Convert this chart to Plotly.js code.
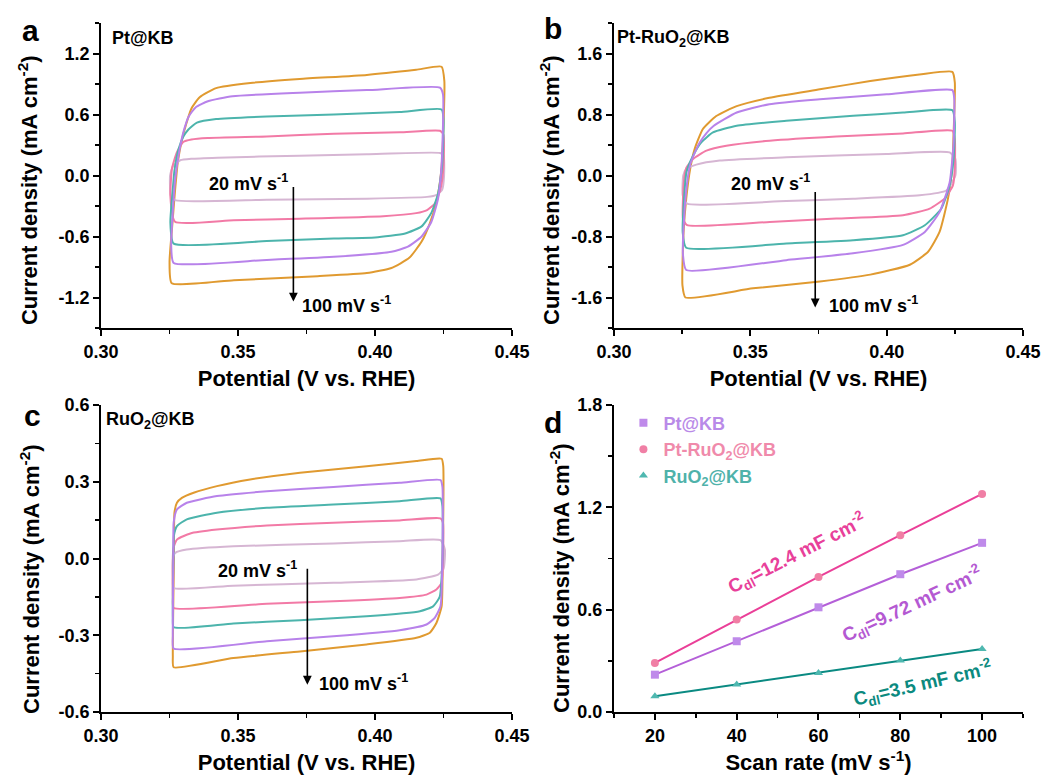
<!DOCTYPE html>
<html>
<head>
<meta charset="utf-8">
<script src="https://cdn.plot.ly/plotly-3.0.1.min.js"></script>
<style>
  html, body { margin: 0; padding: 0; background: #fff; }
  #chart { width: 1046px; height: 778px; }
</style>
</head>
<body>
<div id="chart"></div>
<script>
// ---- Cyclic voltammograms, Pt@KB (potential V vs. RHE, current mA cm^-2) ----
const aV20  = [0.3273,0.3255,0.3252,0.3262,0.3289,0.3330,0.3425,0.3725,0.3970,0.4237,0.4250,0.4252,0.4245,0.4225,0.4190,0.3970,0.3605,0.3273];
const aJ20  = [-0.245,-0.20,0.00,0.09,0.15,0.165,0.176,0.195,0.21,0.222,0.20,0.00,-0.14,-0.19,-0.21,-0.228,-0.238,-0.245];
const aV40  = [0.3270,0.3253,0.3259,0.3277,0.3300,0.3330,0.3390,0.3605,0.3850,0.4090,0.4237,0.4250,0.4250,0.4240,0.4220,0.4190,0.4150,0.4030,0.3725,0.3485,0.3270];
const aJ40  = [-0.455,-0.20,0.07,0.23,0.33,0.355,0.37,0.385,0.41,0.425,0.44,0.40,0.10,-0.12,-0.27,-0.34,-0.37,-0.40,-0.425,-0.44,-0.455];
const aV60  = [0.3265,0.3253,0.3260,0.3268,0.3283,0.3300,0.3318,0.3350,0.3420,0.3605,0.3850,0.4090,0.4243,0.4250,0.4245,0.4230,0.4205,0.4170,0.4110,0.4000,0.3850,0.3605,0.3265];
const aJ60  = [-0.67,-0.46,-0.20,0.05,0.26,0.38,0.45,0.52,0.555,0.58,0.60,0.625,0.65,0.55,0.10,-0.18,-0.37,-0.50,-0.57,-0.61,-0.62,-0.645,-0.67];
const aV80  = [0.3265,0.3256,0.3262,0.3270,0.3283,0.3300,0.3320,0.3345,0.3390,0.3480,0.3725,0.3970,0.4237,0.4248,0.4246,0.4240,0.4230,0.4205,0.4170,0.4120,0.4060,0.3850,0.3605,0.3265];
const aJ80  = [-0.86,-0.69,-0.35,-0.05,0.20,0.42,0.58,0.67,0.73,0.78,0.815,0.84,0.865,0.80,0.30,0.00,-0.23,-0.46,-0.60,-0.70,-0.75,-0.80,-0.83,-0.86];
const aV100 = [0.3258,0.3250,0.3259,0.3270,0.3280,0.3295,0.3310,0.3330,0.3360,0.3420,0.3545,0.3725,0.3970,0.4150,0.4243,0.4253,0.4250,0.4242,0.4225,0.4200,0.4170,0.4125,0.4060,0.3970,0.3790,0.3485,0.3258];
const aJ100 = [-1.06,-0.85,-0.52,-0.15,0.13,0.35,0.50,0.66,0.77,0.86,0.91,0.95,0.99,1.04,1.07,0.93,0.50,0.05,-0.25,-0.47,-0.65,-0.81,-0.91,-0.96,-0.99,-1.03,-1.06];

// ---- Pt-RuO2@KB ----
const bV20  = [0.3268,0.3252,0.3254,0.3265,0.3302,0.3388,0.3632,0.4000,0.4231,0.4252,0.4252,0.4219,0.4121,0.3877,0.3632,0.3268];
const bJ20  = [-0.37,-0.26,0.00,0.087,0.143,0.196,0.239,0.283,0.304,0.217,0.00,-0.196,-0.26,-0.304,-0.335,-0.37];
const bV40  = [0.3268,0.3253,0.3256,0.3265,0.3290,0.3339,0.3412,0.3571,0.3815,0.4060,0.4241,0.4250,0.4250,0.4243,0.4213,0.4158,0.4060,0.3815,0.3571,0.3268];
const bJ40  = [-0.652,-0.565,-0.10,0.10,0.217,0.326,0.391,0.457,0.513,0.552,0.587,0.478,0.10,-0.13,-0.30,-0.435,-0.52,-0.565,-0.609,-0.652];
const bV60  = [0.3265,0.3252,0.3257,0.3266,0.3290,0.3320,0.3363,0.3450,0.3632,0.3877,0.4060,0.4241,0.4250,0.4245,0.4231,0.4200,0.4140,0.4060,0.3877,0.3632,0.3265];
const bJ60  = [-0.948,-0.75,-0.30,0.05,0.26,0.435,0.565,0.652,0.717,0.783,0.826,0.857,0.70,0.20,-0.13,-0.435,-0.652,-0.783,-0.848,-0.891,-0.948];
const bV80  = [0.3265,0.3253,0.3258,0.3268,0.3280,0.3300,0.3315,0.3340,0.3365,0.3450,0.3570,0.3755,0.4000,0.4241,0.4248,0.4245,0.4231,0.4194,0.4140,0.4060,0.3877,0.3632,0.3265];
const bJ80  = [-1.24,-1.04,-0.50,-0.10,0.15,0.33,0.435,0.56,0.65,0.826,0.935,1.00,1.065,1.12,1.00,0.40,-0.09,-0.48,-0.74,-0.91,-1.02,-1.11,-1.24];
const bV100 = [0.3262,0.3251,0.3255,0.3265,0.3280,0.3296,0.3326,0.3375,0.3450,0.3570,0.3755,0.3940,0.4120,0.4241,0.4250,0.4246,0.4240,0.4225,0.4194,0.4152,0.4085,0.3940,0.3755,0.3510,0.3262];
const bJ100 = [-1.60,-1.44,-0.75,-0.30,0.10,0.35,0.61,0.78,0.91,1.02,1.13,1.24,1.325,1.36,1.22,0.60,0.10,-0.30,-0.74,-1.00,-1.17,-1.30,-1.39,-1.48,-1.60];

// ---- RuO2@KB ----
const cV20  = [0.3265,0.3262,0.3264,0.3271,0.3313,0.3483,0.3848,0.4090,0.4239,0.4255,0.4250,0.4230,0.4151,0.3848,0.3483,0.3265];
const cJ20  = [-0.115,-0.07,0.01,0.022,0.035,0.048,0.059,0.068,0.072,0.035,-0.04,-0.063,-0.082,-0.095,-0.106,-0.115];
const cV40  = [0.3265,0.3262,0.3264,0.3277,0.3326,0.3423,0.3605,0.3848,0.4090,0.4239,0.4248,0.4248,0.4243,0.4224,0.4188,0.4090,0.3848,0.3605,0.3265];
const cJ40  = [-0.193,-0.15,0.04,0.074,0.098,0.113,0.129,0.14,0.149,0.157,0.14,0.00,-0.095,-0.121,-0.141,-0.154,-0.167,-0.177,-0.193];
const cV60  = [0.3265,0.3262,0.3264,0.3266,0.3277,0.3313,0.3423,0.3605,0.3848,0.4090,0.4239,0.4246,0.4246,0.4236,0.4212,0.4164,0.3969,0.3726,0.3483,0.3265];
const cJ60  = [-0.269,-0.23,0.00,0.09,0.127,0.153,0.179,0.198,0.211,0.224,0.235,0.205,0.00,-0.15,-0.187,-0.206,-0.226,-0.241,-0.254,-0.269];
const cV80  = [0.3265,0.3262,0.3264,0.3265,0.3277,0.3313,0.3423,0.3605,0.3848,0.4090,0.4239,0.4246,0.4246,0.4239,0.4218,0.4188,0.4090,0.3848,0.3605,0.3265];
const cJ80  = [-0.352,-0.30,0.00,0.14,0.192,0.218,0.244,0.263,0.28,0.296,0.307,0.28,0.00,-0.187,-0.232,-0.258,-0.28,-0.304,-0.323,-0.352];
const cV100 = [0.3265,0.3262,0.3266,0.3268,0.3277,0.3295,0.3338,0.3423,0.3544,0.3726,0.3969,0.4151,0.4243,0.4249,0.4247,0.4243,0.4224,0.4200,0.4151,0.3969,0.3726,0.3483,0.3265];
const cJ100 = [-0.425,-0.38,0.00,0.18,0.218,0.237,0.257,0.283,0.309,0.335,0.361,0.381,0.39,0.361,0.00,-0.187,-0.252,-0.29,-0.31,-0.336,-0.363,-0.389,-0.425];

// ---- Double-layer capacitance: current density vs. scan rate ----
const scanRate   = [20, 40, 60, 80, 100];
const ptKB       = [0.219, 0.415, 0.614, 0.808, 0.992];
const ptRuO2KB   = [0.288, 0.542, 0.792, 1.037, 1.279];
const ruO2KB     = [0.092, 0.161, 0.229, 0.302, 0.370];

// ---- Tick labels ----
const potTicks    = [0.30, 0.35, 0.40, 0.45];
const potLabels   = ['0.30', '0.35', '0.40', '0.45'];
const aTicks      = [-1.2, -0.6, 0, 0.6, 1.2];
const aLabels     = ['-1.2', '-0.6', '0.0', '0.6', '1.2'];
const bTicks      = [-1.6, -0.8, 0, 0.8, 1.6];
const bLabels     = ['-1.6', '-0.8', '0.0', '0.8', '1.6'];
const cTicks      = [-0.6, -0.3, 0, 0.3, 0.6];
const cLabels     = ['-0.6', '-0.3', '0.0', '0.3', '0.6'];
const rateTicks   = [20, 40, 60, 80, 100];
const rateLabels  = ['20', '40', '60', '80', '100'];
const dTicks      = [0, 0.6, 1.2, 1.8];
const dLabels     = ['0.0', '0.6', '1.2', '1.8'];

const FONT = 'Liberation Sans, Arial, Helvetica, sans-serif';
// line colours for 20, 40, 60, 80, 100 mV s^-1
const C20 = '#d6b6d3', C40 = '#f27aa6', C60 = '#4cb4ac', C80 = '#b882ea', C100 = '#e09a30';

function cvTrace(x, y, color, n) {
  return {
    x: x, y: y, mode: 'lines', xaxis: 'x' + n, yaxis: 'y' + n,
    line: { color: color, width: 2, shape: 'spline', smoothing: 0.5 },
    showlegend: false, hoverinfo: 'skip'
  };
}

const traces = [
  cvTrace(aV100, aJ100, C100, ''), cvTrace(aV20, aJ20, C20, ''), cvTrace(aV40, aJ40, C40, ''),
  cvTrace(aV60, aJ60, C60, ''), cvTrace(aV80, aJ80, C80, ''),
  cvTrace(bV100, bJ100, C100, '2'), cvTrace(bV20, bJ20, C20, '2'), cvTrace(bV40, bJ40, C40, '2'),
  cvTrace(bV60, bJ60, C60, '2'), cvTrace(bV80, bJ80, C80, '2'),
  cvTrace(cV100, cJ100, C100, '3'), cvTrace(cV20, cJ20, C20, '3'), cvTrace(cV40, cJ40, C40, '3'),
  cvTrace(cV60, cJ60, C60, '3'), cvTrace(cV80, cJ80, C80, '3')
];

// scan-rate plot: lines then markers (markers carry the legend)
const series = [
  { y: ptKB,     name: 'Pt@KB',                    line: '#b45fd8', mark: '#bf8aea', sym: 'square',      txt: '#b98ae8' },
  { y: ptRuO2KB, name: 'Pt-RuO<sub>2</sub>@KB',    line: '#ea3f98', mark: '#f07fa5', sym: 'circle',      txt: '#f08aab' },
  { y: ruO2KB,   name: 'RuO<sub>2</sub>@KB',       line: '#0a8a82', mark: '#4fb8b0', sym: 'triangle-up', txt: '#4fb2aa' }
];
series.forEach(s => {
  traces.push({
    x: scanRate, y: s.y, mode: 'lines', xaxis: 'x4', yaxis: 'y4',
    line: { color: s.line, width: 2 }, showlegend: false, hoverinfo: 'skip'
  });
});
series.forEach(s => {
  traces.push({
    x: scanRate, y: s.y, mode: 'markers', xaxis: 'x4', yaxis: 'y4',
    name: '<span style="color:' + s.txt + '">' + s.name + '</span>',
    marker: { color: s.mark, size: 8, symbol: s.sym }
  });
});

const boldTxt = (size, color) => ({ family: FONT, size: size, color: color || '#000', weight: 'bold' });

function axisBase(extra) {
  return Object.assign({
    showline: true, linecolor: '#000', linewidth: 2, mirror: false,
    ticks: 'outside', ticklen: 6, tickwidth: 2, tickcolor: '#000',
    showgrid: false, zeroline: false, tickmode: 'array',
    tickfont: boldTxt(18)
  }, extra);
}
function minor(tick0, dtick, dir) {
  return { ticks: dir || 'outside', ticklen: 4, tickwidth: 1.5, tickcolor: '#000', tickmode: 'linear', tick0: tick0, dtick: dtick, showgrid: false };
}
// frame edge (top or right) carrying inward-pointing ticks
function frameAxis(base, side) {
  return Object.assign({}, base, {
    side: side, overlaying: base.overlayOf, ticks: 'inside', ticklen: 5,
    showticklabels: false, title: { text: '' },
    minor: Object.assign({}, base.minor, { ticks: 'inside', ticklen: 3 })
  });
}
const potTitle = { text: 'Potential (V vs. RHE)', standoff: 10, font: boldTxt(22) };

const XL = [0.0966, 0.4895], XR = [0.5870, 0.9780];
const YT = [0.5784, 0.9704], YB = [0.0848, 0.4794];

function paperText(text, x, y, size, xanchor, angle) {
  return {
    text: text, xref: 'paper', yref: 'paper', x: x, y: y, showarrow: false,
    xanchor: xanchor || 'center', yanchor: 'middle', textangle: angle || 0,
    font: boldTxt(size)
  };
}
function rateArrow(n, x, yFrom, yTo, xText20, yText20, xText100, yText100) {
  const xr = 'x' + n, yr = 'y' + n;
  return [
    { xref: xr, yref: yr, axref: xr, ayref: yr, x: x, y: yTo, ax: x, ay: yFrom,
      text: '', showarrow: true, arrowhead: 2, arrowsize: 1.1, arrowwidth: 1.6, arrowcolor: '#000' },
    { xref: xr, yref: yr, x: xText20, y: yText20, text: '20 mV s<sup>-1</sup>', showarrow: false,
      xanchor: 'right', yanchor: 'middle', font: boldTxt(18) },
    { xref: xr, yref: yr, x: xText100, y: yText100, text: '100 mV s<sup>-1</sup>', showarrow: false,
      xanchor: 'left', yanchor: 'middle', font: boldTxt(18) }
  ];
}
const yTitle = 'Current density (mA cm<sup>-2</sup>)';

const annotations = [
  paperText('a', 0.0296, 0.9614, 30), paperText('b', 0.5287, 0.9640, 30),
  paperText('c', 0.0306, 0.4653, 30), paperText('d', 0.5287, 0.4563, 30),
  paperText('Pt@KB', 0.1050, 0.9512, 18, 'left'),
  paperText('Pt-RuO<sub>2</sub>@KB', 0.5880, 0.9500, 18, 'left'),
  paperText('RuO<sub>2</sub>@KB', 0.0995, 0.4600, 18, 'left'),
  paperText(yTitle, 0.0268, 0.7558, 22, 'center', -90),
  paperText(yTitle, 0.5258, 0.7558, 22, 'center', -90),
  paperText(yTitle, 0.0287, 0.2558, 22, 'center', -90),
  paperText(yTitle, 0.5354, 0.2571, 22, 'center', -90),
  ...rateArrow('', 0.3702, -0.098, -1.24, 0.3690, -0.065, 0.3725, -1.265),
  ...rateArrow('2', 0.3738, -0.196, -1.73, 0.3727, -0.087, 0.3780, -1.696),
  ...rateArrow('3', 0.3753, -0.034, -0.493, 0.3722, -0.043, 0.3790, -0.484),
  { xref: 'x4', yref: 'y4', x: 54.7, y: 0.931, text: 'C<sub>dl</sub>=12.4 mF cm<sup>-2</sup>', showarrow: false,
    textangle: -27, font: boldTxt(19, '#e8409a') },
  { xref: 'x4', yref: 'y4', x: 82.8, y: 0.632, text: 'C<sub>dl</sub>=9.72 mF cm<sup>-2</sup>', showarrow: false,
    textangle: -25, font: boldTxt(19, '#b459d2') },
  { xref: 'x4', yref: 'y4', x: 85.5, y: 0.168, text: 'C<sub>dl</sub>=3.5 mF cm<sup>-2</sup>', showarrow: false,
    textangle: -13, font: boldTxt(19, '#0b8a80') }
];

const xA = axisBase({ domain: XL, anchor: 'y',  range: [0.30, 0.45], tickvals: potTicks, ticktext: potLabels, minor: minor(0.30, 0.025), title: potTitle });
const yA = axisBase({ domain: YT, anchor: 'x',  range: [-1.5, 1.5], tickvals: aTicks, ticktext: aLabels, minor: minor(0, 0.3) });
const xB = axisBase({ domain: XR, anchor: 'y2', range: [0.30, 0.45], tickvals: potTicks, ticktext: potLabels, minor: minor(0.30, 0.025), title: potTitle });
const yB = axisBase({ domain: YT, anchor: 'x2', range: [-2, 2], tickvals: bTicks, ticktext: bLabels, minor: minor(0, 0.4) });
const xC = axisBase({ domain: XL, anchor: 'y3', range: [0.30, 0.45], tickvals: potTicks, ticktext: potLabels, minor: minor(0.30, 0.025), title: potTitle });
const yC = axisBase({ domain: YB, anchor: 'x3', range: [-0.6, 0.6], tickvals: cTicks, ticktext: cLabels, minor: minor(0, 0.15) });
const xD = axisBase({ domain: XR, anchor: 'y4', range: [10, 110], tickvals: rateTicks, ticktext: rateLabels, minor: minor(10, 10),
  title: { text: 'Scan rate (mV s<sup>-1</sup>)', standoff: 10, font: boldTxt(22) } });
const yD = axisBase({ domain: YB, anchor: 'x4', range: [0, 1.8], tickvals: dTicks, ticktext: dLabels, minor: minor(0, 0.3) });

function edge(base, over, side) {
  const e = frameAxis(Object.assign({}, base, { overlayOf: over }), side);
  delete e.overlayOf;
  delete e.domain;
  return e;
}

const layout = {
  width: 1046, height: 778,
  margin: { l: 0, r: 0, t: 0, b: 0 },
  paper_bgcolor: '#fff', plot_bgcolor: '#fff',
  font: { family: FONT, color: '#000' },
  showlegend: true,
  legend: {
    x: 0.596, y: 0.480, xanchor: 'left', yanchor: 'top',
    bgcolor: 'rgba(0,0,0,0)', borderwidth: 0, itemwidth: 30, tracegroupgap: 0,
    font: boldTxt(18)
  },
  xaxis: xA, yaxis: yA, xaxis2: xB, yaxis2: yB, xaxis3: xC, yaxis3: yC, xaxis4: xD, yaxis4: yD,
  xaxis5:  edge(xA, 'x',  'top'),   yaxis5:  edge(yA, 'y',  'right'),
  xaxis6:  edge(xB, 'x2', 'top'),   yaxis6:  edge(yB, 'y2', 'right'),
  xaxis7:  edge(xC, 'x3', 'top'),   yaxis7:  edge(yC, 'y3', 'right'),
  xaxis8:  edge(xD, 'x4', 'top'),   yaxis8:  edge(yD, 'y4', 'right'),
  annotations: annotations
};

Plotly.newPlot('chart', traces, layout, { displayModeBar: false, staticPlot: true });
</script>
</body>
</html>
